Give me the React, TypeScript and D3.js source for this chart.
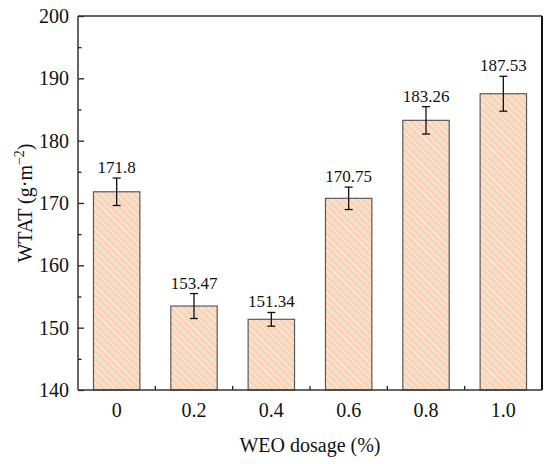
import React, { useEffect, useRef } from "react";
import * as d3 from "d3";

const categories = ["0", "0.2", "0.4", "0.6", "0.8", "1.0"];
const values = [171.8, 153.47, 151.34, 170.75, 183.26, 187.53];
const errors = [2.2, 2.0, 1.1, 1.8, 2.2, 2.8];
const valueLabels = ["171.8", "153.47", "151.34", "170.75", "183.26", "187.53"];
const yTicks = [140, 150, 160, 170, 180, 190, 200];
const yMinorTicks = [145, 155, 165, 175, 185, 195];

const width = 550;
const height = 464;
const font = "Liberation Serif, DejaVu Serif, serif";

const App: React.FC = () => {
  const svgRef = useRef<SVGSVGElement>(null);

  useEffect(() => {
    if (!svgRef.current) return;
    d3.select(svgRef.current).selectAll("*").remove();

    const margin = { top: 16, right: 8, bottom: 74, left: 78 };
    const innerWidth = width - margin.left - margin.right;
    const innerHeight = height - margin.top - margin.bottom;

    const svg = d3.select(svgRef.current)
      .attr("width", width)
      .attr("height", height)
      .style("font-family", font);

    const defs = svg.append("defs");
    const pattern = defs.append("pattern")
      .attr("id", "hatch")
      .attr("patternUnits", "userSpaceOnUse")
      .attr("width", 7)
      .attr("height", 7);
    pattern.append("rect")
      .attr("width", 7)
      .attr("height", 7)
      .attr("fill", "#f9d5b9");
    pattern.append("path")
      .attr("d", "M-1,-1 L8,8 M-1,6 L1,8 M6,-1 L8,1")
      .attr("stroke", "#ffffff")
      .attr("stroke-width", 0.8);

    const g = svg.append("g")
      .attr("transform", `translate(${margin.left},${margin.top})`);

    const x = d3.scaleBand()
      .domain(categories)
      .range([0, innerWidth])
      .paddingInner(0)
      .paddingOuter(0);

    const y = d3.scaleLinear()
      .domain([140, 200])
      .range([innerHeight, 0]);

    const barW = x.bandwidth() * 0.6;

    // bars
    g.selectAll("rect.bar")
      .data(values)
      .enter()
      .append("rect")
      .attr("class", "bar")
      .attr("x", (_, i) => (x(categories[i]) ?? 0) + (x.bandwidth() - barW) / 2)
      .attr("y", d => y(d))
      .attr("width", barW)
      .attr("height", d => innerHeight - y(d))
      .attr("fill", "url(#hatch)")
      .attr("stroke", "#5a5a5a")
      .attr("stroke-width", 1.2);

    // error bars
    const cx = (i: number) => (x(categories[i]) ?? 0) + x.bandwidth() / 2;
    const err = g.append("g")
      .attr("stroke", "#111")
      .attr("stroke-width", 1.3);
    values.forEach((v, i) => {
      const top = y(v + errors[i]);
      const bot = y(v - errors[i]);
      err.append("line").attr("x1", cx(i)).attr("x2", cx(i)).attr("y1", top).attr("y2", bot);
      err.append("line").attr("x1", cx(i) - 4).attr("x2", cx(i) + 4).attr("y1", top).attr("y2", top);
      err.append("line").attr("x1", cx(i) - 4).attr("x2", cx(i) + 4).attr("y1", bot).attr("y2", bot);
    });

    // value labels
    g.selectAll("text.val")
      .data(valueLabels)
      .enter()
      .append("text")
      .attr("class", "val")
      .attr("x", (_, i) => cx(i))
      .attr("y", (_, i) => y(values[i] + errors[i]) - 5)
      .attr("text-anchor", "middle")
      .style("font-family", font)
      .attr("font-size", 17)
      .attr("fill", "#111")
      .text(d => d);

    // y axis (ticks inward)
    const yAxis = g.append("g")
      .call(d3.axisRight(y).tickValues(yTicks).tickSize(6).tickFormat(() => ""));
    yAxis.select(".domain").remove();
    yAxis.selectAll("line").attr("stroke", "#222").attr("stroke-width", 1.3);

    const yMinor = g.append("g")
      .call(d3.axisRight(y).tickValues(yMinorTicks).tickSize(3.5).tickFormat(() => ""));
    yMinor.select(".domain").remove();
    yMinor.selectAll("line").attr("stroke", "#222").attr("stroke-width", 1.3);

    g.selectAll("text.ytick")
      .data(yTicks)
      .enter()
      .append("text")
      .attr("class", "ytick")
      .attr("x", -9)
      .attr("y", d => y(d))
      .attr("dy", "0.35em")
      .attr("text-anchor", "end")
      .style("font-family", font)
      .attr("font-size", 20)
      .attr("fill", "#111")
      .text(d => d);

    // x ticks at band boundaries, inward
    const bounds = categories.slice(1).map(c => x(c) ?? 0);
    g.selectAll("line.xtick")
      .data(bounds)
      .enter()
      .append("line")
      .attr("class", "xtick")
      .attr("x1", d => d)
      .attr("x2", d => d)
      .attr("y1", innerHeight)
      .attr("y2", innerHeight - 4)
      .attr("stroke", "#222")
      .attr("stroke-width", 1.3);

    g.selectAll("text.xtick")
      .data(categories)
      .enter()
      .append("text")
      .attr("class", "xtick")
      .attr("x", (_, i) => cx(i))
      .attr("y", innerHeight + 27)
      .attr("text-anchor", "middle")
      .style("font-family", font)
      .attr("font-size", 20)
      .attr("fill", "#111")
      .text(d => d);

    // frame
    g.append("line").attr("x1", 0).attr("x2", innerWidth).attr("y1", 0).attr("y2", 0)
      .attr("stroke", "#333").attr("stroke-width", 1.5);
    g.append("line").attr("x1", innerWidth).attr("x2", innerWidth).attr("y1", 0).attr("y2", innerHeight)
      .attr("stroke", "#111").attr("stroke-width", 2);
    g.append("line").attr("x1", 0).attr("x2", 0).attr("y1", 0).attr("y2", innerHeight)
      .attr("stroke", "#333").attr("stroke-width", 1.5);
    g.append("line").attr("x1", 0).attr("x2", innerWidth).attr("y1", innerHeight).attr("y2", innerHeight)
      .attr("stroke", "#333").attr("stroke-width", 1.5);

    // axis titles
    svg.append("text")
      .attr("x", margin.left + innerWidth / 2)
      .attr("y", 452)
      .attr("text-anchor", "middle")
      .style("font-family", font)
      .attr("font-size", 20)
      .attr("fill", "#111")
      .text("WEO dosage (%)");

    const yt = svg.append("text")
      .attr("transform", `translate(32,${margin.top + innerHeight / 2}) rotate(-90)`)
      .attr("text-anchor", "middle")
      .style("font-family", font)
      .attr("font-size", 20)
      .attr("fill", "#111");
    yt.append("tspan").text("WTAT (g·m");
    yt.append("tspan").attr("dy", -8).attr("font-size", 14).text("−2");
    yt.append("tspan").attr("dy", 8).text(")");
  }, []);

  return (
    <svg
      ref={svgRef}
      style={{ position: "absolute", left: 0, top: 0, background: "#fff" }}
    ></svg>
  );
};

export default App;
